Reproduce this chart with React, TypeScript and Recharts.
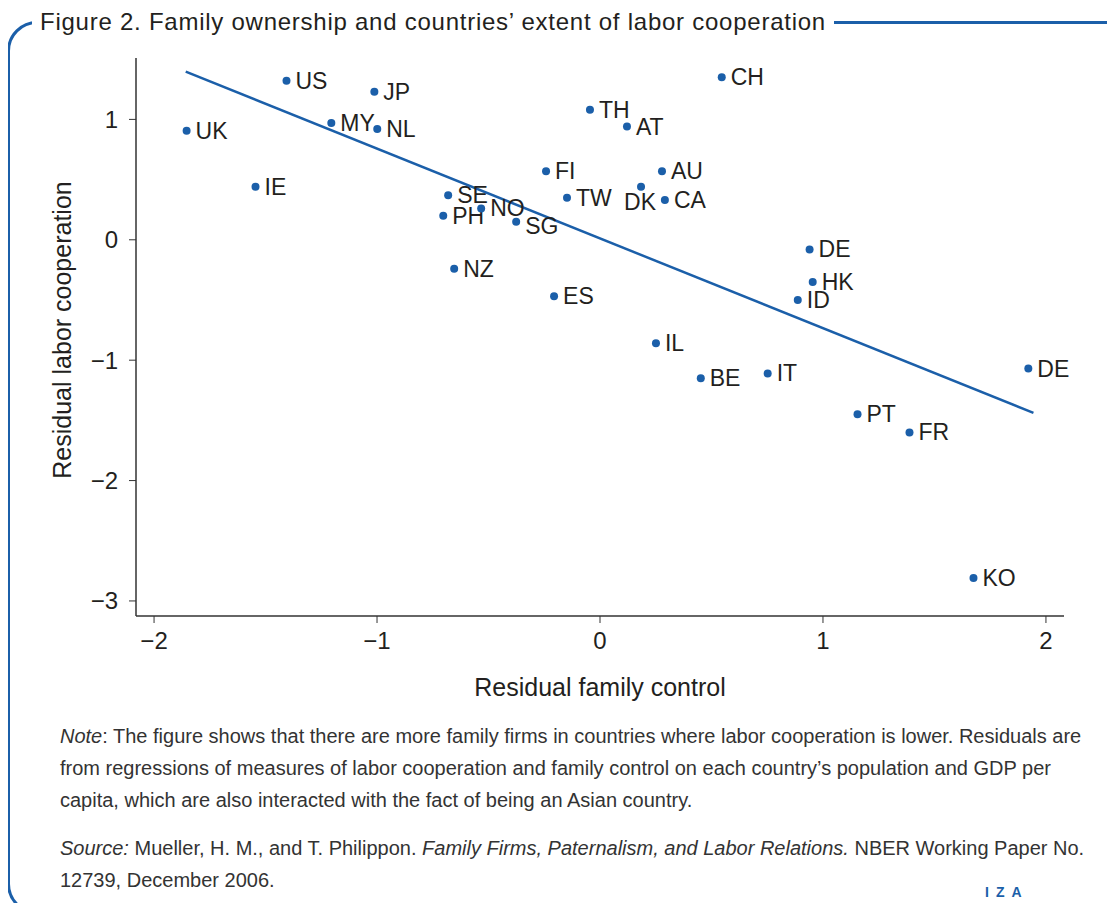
import React from 'react';
import { ScatterChart, Scatter, XAxis, YAxis, ReferenceLine, Label } from 'recharts';

// country codes and residuals
const countries = ['UK', 'US', 'JP', 'MY', 'NL', 'IE', 'SE', 'PH', 'NO', 'SG', 'NZ', 'FI', 'TW', 'ES', 'TH', 'AT', 'CH', 'AU', 'DK', 'CA', 'DE', 'HK', 'ID', 'IL', 'BE', 'IT', 'DE', 'PT', 'FR', 'KO'];
const familyControl = [-1.854, -1.406, -1.012, -1.205, -0.999, -1.545, -0.681, -0.703, -0.533, -0.376, -0.654, -0.242, -0.148, -0.206, -0.045, 0.121, 0.546, 0.278, 0.184, 0.291, 0.94, 0.954, 0.887, 0.251, 0.452, 0.752, 1.921, 1.155, 1.388, 1.675];
const laborCooperation = [0.906, 1.32, 1.23, 0.97, 0.92, 0.44, 0.37, 0.2, 0.26, 0.15, -0.24, 0.57, 0.35, -0.47, 1.08, 0.94, 1.35, 0.57, 0.44, 0.33, -0.08, -0.35, -0.5, -0.86, -1.15, -1.11, -1.07, -1.45, -1.6, -2.81];

const fitLine = [
  { x: -1.858, y: 1.397 },
  { x: 1.944, y: -1.438 },
];

const xTicks = [-2, -1, 0, 1, 2];
const yTicks = [-3, -2, -1, 0, 1];

const data = countries.map((c, i) => ({ name: c, x: familyControl[i], y: laborCooperation[i], idx: i }));

const BLUE = '#1b5fa9';
const INK = '#231f20';
const FONT = '"Liberation Sans", Arial, sans-serif';

// a few labels sit off the usual right-hand spot
const labelShift: Record<number, [number, number]> = {
  18: [-26, 15], // DK
  9: [0, 4], // SG
};

const minus = (v: number) => String(v).replace('-', '\u2212');

const Dot = (props: any) => {
  const { cx, cy, payload } = props;
  const [dx, dy] = labelShift[payload.idx] || [0, 0];
  return (
    <g>
      <circle cx={cx} cy={cy} r={4} fill={BLUE} />
      <text x={cx + 9 + dx} y={cy + 8 + dy} fontSize={23} fill={INK} fontFamily={FONT}>
        {payload.name}
      </text>
    </g>
  );
};

const YTitle = (props: any) => {
  const vb = props.viewBox;
  const x = vb.x + 22;
  const y = vb.y + vb.height / 2 - 7;
  return (
    <text x={x} y={y} transform={`rotate(-90 ${x} ${y})`} textAnchor="middle" dominantBaseline="central" fontSize={25} fill={INK} fontFamily={FONT}>
      Residual labor cooperation
    </text>
  );
};

export default function App() {
  return (
    <div style={{ position: 'relative', width: 1115, height: 911, margin: -8, overflow: 'hidden', background: '#fff', fontFamily: FONT, color: INK }}>
      <div style={{ position: 'absolute', left: 7, top: 21, width: 1128, height: 893, border: `3px solid ${BLUE}`, borderRadius: 30, boxSizing: 'border-box' }} />
      <div style={{ position: 'absolute', left: 32, top: 7, padding: '0 8px', background: '#fff', fontSize: 24, letterSpacing: 0.75, lineHeight: '30px', whiteSpace: 'nowrap' }}>
        Figure 2. Family ownership and countries’ extent of labor cooperation
      </div>
      <div style={{ position: 'absolute', left: 0, top: 0 }}>
        <ScatterChart width={1115} height={720} margin={{ top: 58, right: 51, bottom: 10, left: 40 }}>
          <XAxis
            type="number"
            dataKey="x"
            domain={[-2.081, 2.081]}
            ticks={xTicks}
            tickFormatter={minus}
            height={94}
            tickSize={7}
            tickMargin={9}
            tick={{ fontSize: 24, fill: INK, fontFamily: FONT }}
            axisLine={{ stroke: '#666', strokeWidth: 2 }}
            tickLine={{ stroke: '#333' }}
          >
            <Label value="Residual family control" position="insideBottom" offset={14} fontSize={25} fill={INK} fontFamily={FONT} />
          </XAxis>
          <YAxis
            type="number"
            dataKey="y"
            domain={[-3.125, 1.51]}
            ticks={yTicks}
            tickFormatter={minus}
            width={96}
            tickSize={7}
            tickMargin={11}
            tick={{ fontSize: 24, fill: INK, fontFamily: FONT }}
            axisLine={{ stroke: '#333', strokeWidth: 1.5 }}
            tickLine={{ stroke: '#333' }}
          >
            <Label content={<YTitle />} />
          </YAxis>
          <ReferenceLine segment={fitLine} stroke={BLUE} strokeWidth={2.5} />
          <Scatter data={data} shape={<Dot />} isAnimationActive={false} />
        </ScatterChart>
      </div>
      <div style={{ position: 'absolute', left: 60, top: 720, fontSize: 20, lineHeight: '32px', color: '#333' }}>
        <i>Note</i>: The figure shows that there are more family firms in countries where labor cooperation is lower. Residuals are<br />
        from regressions of measures of labor cooperation and family control on each country’s population and GDP per<br />
        capita, which are also interacted with the fact of being an Asian country.
      </div>
      <div style={{ position: 'absolute', left: 60, top: 832, fontSize: 20, lineHeight: '32px', color: '#333' }}>
        <i>Source:</i> Mueller, H. M., and T. Philippon. <i>Family Firms, Paternalism, and Labor Relations.</i> NBER Working Paper No.<br />
        12739, December 2006.
      </div>
      <div style={{ position: 'absolute', left: 985, top: 885, fontSize: 14, fontWeight: 700, letterSpacing: 7, lineHeight: '15px', color: BLUE }}>
        IZA
      </div>
    </div>
  );
}
